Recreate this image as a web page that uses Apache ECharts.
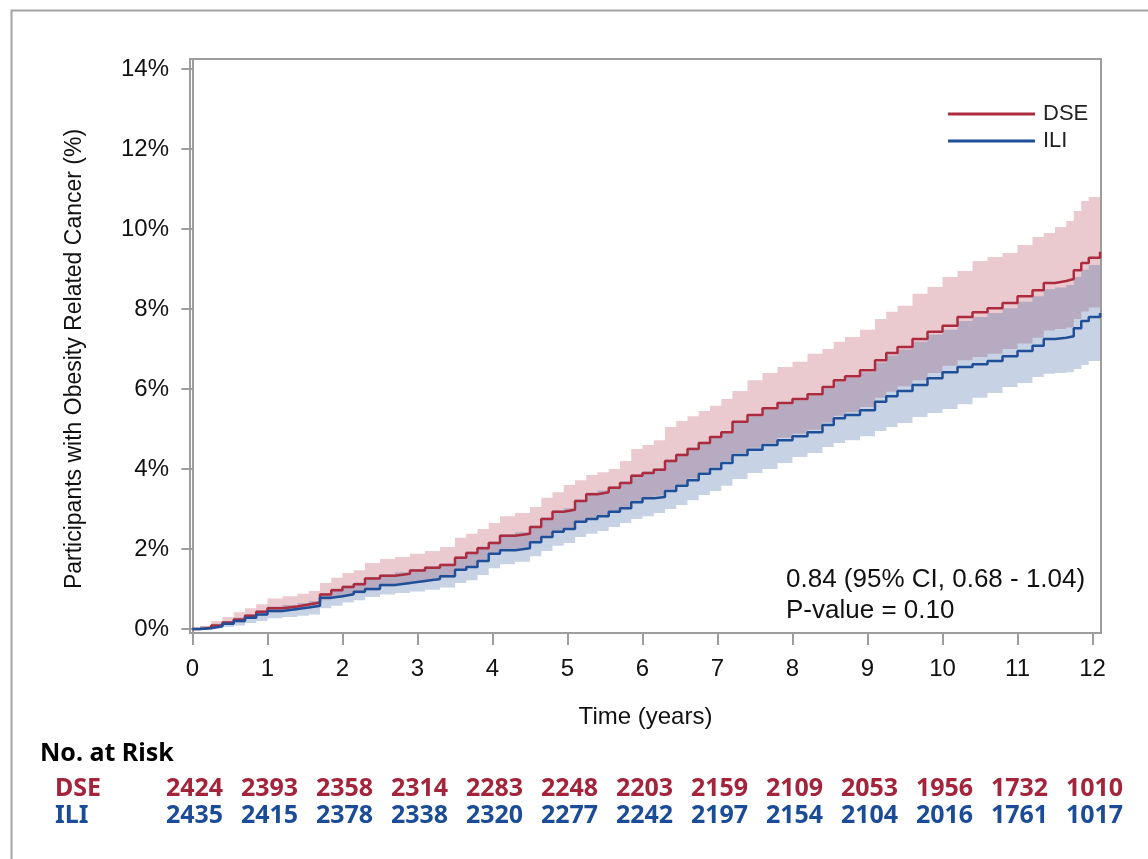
<!DOCTYPE html>
<html>
<head>
<meta charset="utf-8">
<script src="https://cdn.jsdelivr.net/npm/echarts@6/dist/echarts.min.js"></script>
<style>
html,body{margin:0;padding:0;background:#fff;}
#chart{width:1148px;height:859px;}
</style>
</head>
<body>
<div id="chart"></div>
<script>
// ---- Data ----
const times = [0,0.1,0.25,0.4,0.55,0.7,0.85,1.0,1.2,1.4,1.55,1.7,1.85,2.0,2.15,2.3,2.5,2.7,2.9,3.1,3.3,3.5,3.65,3.8,3.95,4.1,4.3,4.5,4.65,4.8,4.95,5.1,5.25,5.4,5.55,5.7,5.85,6.0,6.15,6.3,6.45,6.6,6.75,6.9,7.05,7.2,7.4,7.6,7.8,8.0,8.2,8.4,8.55,8.7,8.9,9.1,9.25,9.4,9.6,9.8,10.0,10.2,10.4,10.6,10.8,11.0,11.2,11.35,11.5,11.65,11.75,11.85,11.95,12.1];

const dseEst = [0,0.03,0.09,0.16,0.24,0.33,0.43, 0.52,0.56,0.61,0.66,0.86,0.97, 1.05,1.12,1.26,1.33,1.38,1.46, 1.53,1.6,1.78,1.9,2.02,2.15, 2.33,2.38,2.55,2.75,2.93,2.98, 3.2,3.37,3.42,3.53,3.65,3.83, 3.9,3.98,4.2,4.35,4.5,4.65,4.8, 4.92,5.18,5.35,5.52,5.65, 5.75,5.87,6.05,6.22,6.32,6.47, 6.72,6.9,7.05,7.25,7.43, 7.58,7.8,7.92,8.02,8.15, 8.32,8.47,8.65,8.7,8.75,8.97,9.15,9.28, 9.43];
const dseUpper = [0,0.08,0.2,0.3,0.42,0.52,0.62, 0.76,0.82,0.88,0.95,1.15,1.28, 1.4,1.47,1.65,1.75,1.8,1.88, 1.95,2.05,2.28,2.38,2.5,2.65, 2.82,2.9,3.05,3.28,3.42,3.6, 3.72,3.85,3.92,4.0,4.2,4.5, 4.6,4.72,5.05,5.2,5.32,5.45,5.58, 5.75,5.95,6.22,6.4,6.55, 6.68,6.88,7.0,7.18,7.3,7.48, 7.75,7.93,8.08,8.38,8.55, 8.8,8.95,9.2,9.3,9.4, 9.6,9.8,9.9,10.05,10.2,10.45,10.7,10.8, 10.95];
const dseLower = [0,0,0.04,0.1,0.17,0.25,0.33, 0.41,0.46,0.5,0.54,0.72,0.78, 0.83,0.89,0.96,1.06,1.11,1.16, 1.21,1.28,1.45,1.53,1.68,1.86, 1.96,2.01,2.17,2.3,2.44,2.51, 2.7,2.77,2.84,2.95,3.05,3.2, 3.3,3.33,3.48,3.62,3.76,3.92,4.04, 4.2,4.4,4.53,4.65,4.78, 4.88,4.98,5.16,5.33,5.42,5.55, 5.78,5.93,6.07,6.22,6.4, 6.58,6.72,6.8,6.88,7.0, 7.14,7.28,7.46,7.5,7.54,7.75,7.94,8.04, 8.15];

const iliEst = [0,0.02,0.07,0.13,0.2,0.28,0.36, 0.45,0.5,0.54,0.58,0.78,0.82, 0.87,0.93,1.0,1.1,1.15,1.2, 1.25,1.32,1.48,1.55,1.7,1.88, 1.97,2.02,2.17,2.3,2.43,2.5, 2.68,2.75,2.82,2.93,3.02,3.17, 3.27,3.3,3.45,3.58,3.72,3.88,4.0, 4.15,4.35,4.48,4.6,4.72, 4.82,4.92,5.1,5.27,5.35,5.47, 5.68,5.82,5.95,6.1,6.27, 6.42,6.55,6.62,6.7,6.82, 6.95,7.08,7.25,7.28,7.32,7.52,7.7,7.8, 7.9];
const iliLower = [0,0,0.02,0.05,0.09,0.15,0.2, 0.27,0.3,0.33,0.36,0.52,0.58, 0.66,0.72,0.8,0.86,0.9,0.94, 0.98,1.04,1.15,1.22,1.35,1.52, 1.62,1.68,1.82,1.95,2.08,2.15, 2.3,2.38,2.45,2.55,2.65,2.75, 2.82,2.9,3.0,3.1,3.22,3.35,3.45, 3.58,3.75,3.9,4.0,4.15, 4.3,4.4,4.55,4.65,4.72,4.82, 4.95,5.05,5.15,5.3,5.4, 5.5,5.62,5.78,5.9,6.05, 6.15,6.3,6.38,6.4,6.42,6.5,6.6,6.7, 6.78];
const iliUpper = [0,0.06,0.13,0.2,0.28,0.37,0.47, 0.56,0.6,0.65,0.7,0.9,1.01, 1.09,1.16,1.3,1.37,1.42,1.5, 1.57,1.64,1.82,1.94,2.06,2.19, 2.37,2.42,2.59,2.79,2.97,3.02, 3.24,3.41,3.46,3.57,3.69,3.87, 3.94,4.02,4.24,4.39,4.54,4.68,4.82, 4.93,5.16,5.32,5.49,5.62, 5.72,5.84,6.01,6.18,6.28,6.42, 6.66,6.84,6.99,7.18,7.36, 7.48,7.7,7.8,7.9,8.02, 8.18,8.32,8.5,8.54,8.6,8.8,8.98,9.1, 9.22];

const riskTimes = [0,1,2,3,4,5,6,7,8,9,10,11,12];
const dseRisk = [2424,2393,2358,2314,2283,2248,2203,2159,2109,2053,1956,1732,1010];
const iliRisk = [2435,2415,2378,2338,2320,2277,2242,2197,2154,2104,2016,1761,1017];

const xTicks = [0,1,2,3,4,5,6,7,8,9,10,11,12];
const yTicks = [0,2,4,6,8,10,12,14];

const groupNames = ['DSE','ILI'];
const annotationLines = ['0.84 (95% CI, 0.68 - 1.04)', 'P-value = 0.10'];

// ---- Styles ----
const RED = '#AC2B3F', BLUE = '#1F4F99';
const RED_TXT = '#A3243B', BLUE_TXT = '#1B4C98';
const AXIS_GRAY = '#9d9d9d';
const FONT = '"Liberation Sans", Arial, sans-serif';
const FONT2 = '"Noto Sans", "Open Sans", sans-serif';

const pairs = (xs, ys) => xs.map((x, i) => [x, ys[i]]);
const X_MIN = -0.033, X_MAX = 12.113;

// Confidence band as a step polygon, positioned via the axis scales (api.coord)
function bandSeries(name, lower, upper, fill, z) {
  return {
    name: name, type: 'custom', silent: true, z: z, clip: true,
    data: times.map((t, i) => [t, lower[i], upper[i]]),
    encode: {x: 0, y: [1, 2]},
    renderItem: function (params, api) {
      if (params.dataIndex !== 0) return null;
      const n = times.length;
      const top = [], bot = [];
      for (let i = 0; i < n; i++) {
        top.push(api.coord([times[i], upper[i]]));
        bot.push(api.coord([times[i], lower[i]]));
        if (i < n - 1) {
          top.push(api.coord([times[i + 1], upper[i]]));
          bot.push(api.coord([times[i + 1], lower[i]]));
        }
      }
      return {type: 'polygon', shape: {points: top.concat(bot.reverse())}, style: {fill: fill, stroke: null}};
    }
  };
}

function riskSeries(name, group, counts, color) {
  return {
    name: name, type: 'scatter', xAxisIndex: 1, yAxisIndex: 1, symbolSize: 0, silent: true,
    itemStyle: {color: color, opacity: 1},
    data: riskTimes.map((t, i) => [t, group, counts[i]]),
    label: {show: true, position: 'inside', formatter: p => String(p.data[2]),
      fontFamily: FONT2, fontWeight: 'bold', fontSize: 25, color: color, textBorderWidth: 0, opacity: 1}
  };
}

const chart = echarts.init(document.getElementById('chart'), null, {renderer: 'canvas'});

const option = {
  backgroundColor: '#fff',
  animation: false,
  title: {
    text: 'No. at Risk', left: 40, top: 741, padding: 0,
    textStyle: {fontFamily: FONT2, fontWeight: 'bold', fontSize: 25, color: '#000'}
  },
  legend: {
    orient: 'vertical', left: 943, top: 98,
    data: groupNames, icon: 'rect', itemWidth: 87, itemHeight: 3, itemGap: 5,
    textStyle: {fontFamily: FONT, fontSize: 22, color: '#222', lineHeight: 22, padding: [0,0,0,3]}
  },
  grid: [
    {left: 190, right: 47, top: 59, bottom: 226, show: true, borderColor: AXIS_GRAY, borderWidth: 2, backgroundColor: 'transparent'},
    {left: 192, right: 45, top: 775, height: 54, show: false}
  ],
  xAxis: [
    {
      type: 'value', gridIndex: 0, min: X_MIN, max: X_MAX,
      name: 'Time (years)', nameLocation: 'middle', nameGap: 72,
      nameTextStyle: {fontFamily: FONT, fontSize: 24, color: '#111'},
      axisLine: {show: true, onZero: false, lineStyle: {color: AXIS_GRAY, width: 2}},
      axisTick: {show: true, length: 12, lineStyle: {color: AXIS_GRAY, width: 2}, customValues: xTicks},
      axisLabel: {fontFamily: FONT, fontSize: 24, color: '#111', margin: 24, customValues: xTicks},
      splitLine: {show: false}
    },
    {type: 'value', gridIndex: 1, min: X_MIN, max: X_MAX, show: false}
  ],
  yAxis: [
    {
      type: 'value', gridIndex: 0, min: -0.1, max: 14.25,
      name: 'Participants with Obesity Related Cancer (%)', nameLocation: 'middle', nameGap: 104,
      nameTextStyle: {fontFamily: FONT, fontSize: 23, color: '#111', padding: [0, 26, 0, 0]},
      axisLine: {show: true, lineStyle: {color: AXIS_GRAY, width: 2}},
      axisTick: {show: true, length: 11, lineStyle: {color: AXIS_GRAY, width: 2}, customValues: yTicks},
      axisLabel: {fontFamily: FONT, fontSize: 24, color: '#111', margin: 21, customValues: yTicks, formatter: v => v + '%'},
      splitLine: {show: false}
    },
    {
      type: 'category', gridIndex: 1, data: groupNames, inverse: true,
      axisLine: {show: false}, axisTick: {show: false}, splitLine: {show: false},
      axisLabel: {
        show: true, align: 'left', margin: 137,
        formatter: v => '{' + (v === 'DSE' ? 'd' : 'i') + '|' + v + '}',
        rich: {
          d: {fontFamily: FONT2, fontWeight: 'bold', fontSize: 25, color: RED_TXT},
          i: {fontFamily: FONT2, fontWeight: 'bold', fontSize: 25, color: BLUE_TXT}
        }
      }
    }
  ],
  series: [
    bandSeries('DSE CI', dseLower, dseUpper, 'rgba(172,43,63,0.25)', 1),
    bandSeries('ILI CI', iliLower, iliUpper, 'rgba(31,79,153,0.25)', 2),
    {name: 'DSE', type: 'line', step: 'end', symbol: 'none', color: RED,
     lineStyle: {color: RED, width: 2.5}, data: pairs(times, dseEst), z: 5},
    {name: 'ILI', type: 'line', step: 'end', symbol: 'none', color: BLUE,
     lineStyle: {color: BLUE, width: 2.5}, data: pairs(times, iliEst), z: 5},
    riskSeries('DSE at risk', 'DSE', dseRisk, RED_TXT),
    riskSeries('ILI at risk', 'ILI', iliRisk, BLUE_TXT)
  ],
  graphic: [
    {type: 'rect', left: 9, top: 8, silent: true, z: -10,
     shape: {x: 0, y: 0, width: 1300, height: 1000},
     style: {fill: 'none', stroke: '#a3a3a3', lineWidth: 2}},
    {type: 'text', left: 786, top: 567, silent: true,
     style: {text: annotationLines[0], font: '26px ' + FONT, fill: '#111'}},
    {type: 'text', left: 786, top: 598, silent: true,
     style: {text: annotationLines[1], font: '26px ' + FONT, fill: '#111'}}
  ]
};
chart.setOption(option);
</script>
</body>
</html>
